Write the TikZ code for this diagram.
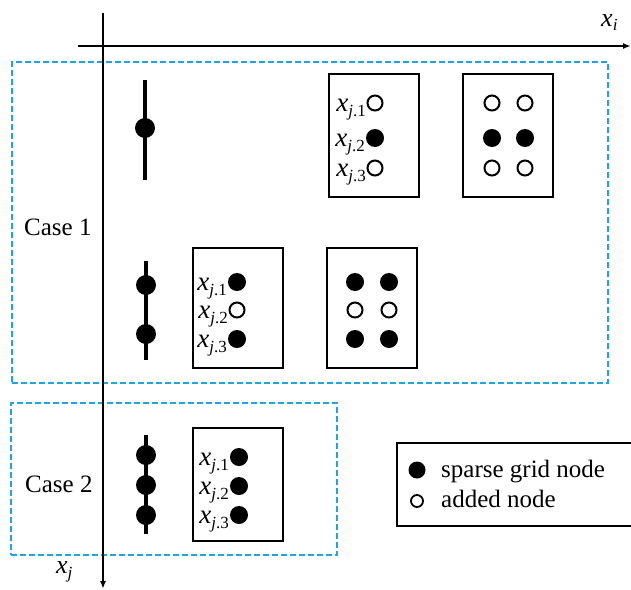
\documentclass[tikz,border=0pt]{standalone}
\usepackage{fontspec}
\setmainfont{Liberation Serif}
\usetikzlibrary{arrows.meta}

\definecolor{caseblue}{RGB}{27,165,228}

% variable label x_{j.k} and axis labels
\newcommand\varx[1]{\textit{x}\raisebox{-5pt}{\fontsize{17}{17}\selectfont#1}}
\newcommand\jlab[1]{\varx{\textit{j}.#1}}

\tikzset{
  axis/.style={line width=1.8pt,-{Latex[length=8pt,width=6pt]}},
  casebox/.style={draw=caseblue,line width=2pt,dash pattern=on 6pt off 3pt},
  gridbox/.style={draw,line width=2pt,inner sep=0pt,rectangle},
  fulldot/.style={circle,fill=black,inner sep=0pt,minimum size=18pt},
  opendot/.style={circle,draw=black,line width=2pt,inner sep=0pt,minimum size=15pt},
  stemdot/.style={circle,fill=black,inner sep=0pt,minimum size=20pt},
  stem/.style={line width=3.5pt},
  txt/.style={inner sep=0pt,font=\fontsize{25}{30}\selectfont},
  lab/.style={inner sep=0pt,anchor=base east,font=\fontsize{27}{30}\selectfont},
}

\begin{document}
\begin{tikzpicture}[x=1pt,y=-1pt]
\useasboundingbox (0,0) rectangle (631,589);

% dashed case frames
\node[casebox,minimum width=596pt,minimum height=321pt,inner sep=0pt] (case1) at (309.5,222.5) {};
\node[casebox,minimum width=326pt,minimum height=152pt,inner sep=0pt] (case2) at (174,479) {};
\node[txt,anchor=base west] (c1lab) at (24,235) {Case 1};
\node[txt,anchor=base west] (c2lab) at (25,492) {Case 2};

% axes
\coordinate (xstart) at (78,46);
\coordinate (xend) at (631,46);
\coordinate (ystart) at (103,13);
\coordinate (yend) at (103,589);
\draw[axis] (xstart) -- (xend);
\draw[axis] (ystart) -- (yend);
\node[inner sep=0pt,anchor=base west,font=\fontsize{26}{30}\selectfont] (xi) at (601,26) {\varx{\textit{i}}};
\node[inner sep=0pt,anchor=base west,font=\fontsize{26}{30}\selectfont] (xj) at (56,573) {\varx{\textit{j}}};

% one-dimensional stems
\coordinate (s1t) at (145,80);
\coordinate (s1b) at (145,180);
\draw[stem] (s1t) -- (s1b);
\node[stemdot] (s1a) at (145,128) {};

\coordinate (s2t) at (146,261);
\coordinate (s2b) at (146,360);
\draw[stem] (s2t) -- (s2b);
\node[stemdot] (s2a) at (146,285) {};
\node[stemdot] (s2c) at (146,334) {};

\coordinate (s3t) at (146,435);
\coordinate (s3b) at (146,534);
\draw[stem] (s3t) -- (s3b);
\node[stemdot] (s3a) at (146,455) {};
\node[stemdot] (s3b2) at (146,485) {};
\node[stemdot] (s3c) at (146,515) {};

% Case 1, upper row: single interior node refined
\node[gridbox,minimum width=90pt,minimum height=123pt] (boxA) at (374,135.5) {};
\node[opendot] (a1) at (375,103) {};
\node[fulldot] (a2) at (375,138) {};
\node[opendot] (a3) at (375,168) {};
\node[lab] (la1) at (366,111) {\jlab{1}};
\node[lab] (la2) at (365,146) {\jlab{2}};
\node[lab] (la3) at (366,176) {\jlab{3}};

\node[gridbox,minimum width=90pt,minimum height=123pt] (boxB) at (508,135.5) {};
\node[opendot] (b11) at (492,103) {};
\node[opendot] (b12) at (525,103) {};
\node[fulldot] (b21) at (492,138) {};
\node[fulldot] (b22) at (525,138) {};
\node[opendot] (b31) at (492,168) {};
\node[opendot] (b32) at (525,168) {};

% Case 1, lower row: two boundary nodes refined
\node[gridbox,minimum width=90pt,minimum height=120pt] (boxC) at (238,308) {};
\node[fulldot] (c1) at (237,282) {};
\node[opendot] (c2) at (237,310) {};
\node[fulldot] (c3) at (237,339) {};
\node[lab] (lc1) at (227,290) {\jlab{1}};
\node[lab] (lc2) at (228,318) {\jlab{2}};
\node[lab] (lc3) at (227,347) {\jlab{3}};

\node[gridbox,minimum width=90pt,minimum height=120pt] (boxD) at (372,308) {};
\node[fulldot] (d11) at (355,282) {};
\node[fulldot] (d12) at (389,282) {};
\node[opendot] (d21) at (355,310) {};
\node[opendot] (d22) at (389,310) {};
\node[fulldot] (d31) at (355,339) {};
\node[fulldot] (d32) at (389,339) {};

% Case 2
\node[gridbox,minimum width=90pt,minimum height=113pt] (boxE) at (238,484.5) {};
\node[fulldot] (e1) at (239,457) {};
\node[fulldot] (e2) at (239,486) {};
\node[fulldot] (e3) at (239,515) {};
\node[lab] (le1) at (229,465) {\jlab{1}};
\node[lab] (le2) at (229,494) {\jlab{2}};
\node[lab] (le3) at (229,523) {\jlab{3}};

% legend
\node[gridbox,minimum width=240pt,minimum height=83pt] (legend) at (517,484.5) {};
\node[fulldot,minimum size=17pt] (lg1) at (417,470) {};
\node[opendot,minimum size=12pt,line width=1.8pt] (lg2) at (417,501) {};
\node[txt,anchor=base west] (lt1) at (441,477) {sparse grid node};
\node[txt,anchor=base west] (lt2) at (441,507) {added node};
\end{tikzpicture}
\end{document}
